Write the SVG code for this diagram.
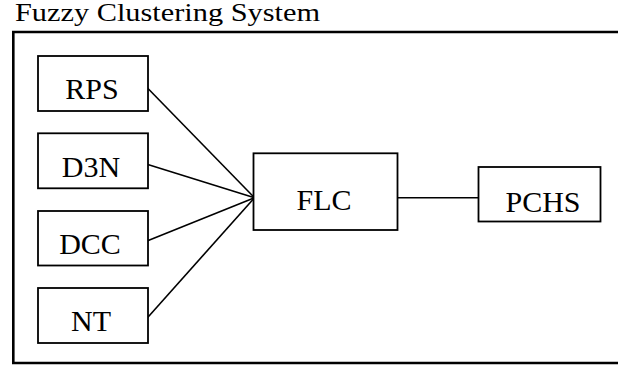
<svg xmlns="http://www.w3.org/2000/svg" width="618" height="367" viewBox="0 0 618 367">
  <style>
    .box { fill: #ffffff; stroke: #000000; stroke-width: 1.8; }
    .frame { fill: none; stroke: #000000; stroke-width: 2.6; }
    .link { fill: none; stroke: #000000; stroke-width: 1.6; }
    .label { font-family: 'Liberation Serif', Tinos, 'Times New Roman', Times, 'Nimbus Roman', 'Nimbus Roman No9 L', FreeSerif, serif; font-size: 30px; fill: #000000; text-anchor: middle; }
    .title { font-family: 'Liberation Serif', Tinos, 'Times New Roman', Times, 'Nimbus Roman', 'Nimbus Roman No9 L', FreeSerif, serif; font-size: 25px; fill: #000000; }
  </style>
  <rect width="618" height="367" fill="#ffffff"/>

  <!-- system boundary (open on the right) -->
  <g id="system">
    <text class="title" x="15" y="20.5" textLength="305" lengthAdjust="spacingAndGlyphs">Fuzzy Clustering System</text>
    <path class="frame" d="M 618 32 H 13.3 V 363 H 618"/>
  </g>

  <!-- connectors -->
  <g id="connectors">
    <line class="link" x1="147" y1="87.5" x2="254.5" y2="197.7"/>
    <line class="link" x1="147" y1="164.3" x2="254.5" y2="197.7"/>
    <line class="link" x1="147" y1="241" x2="254.5" y2="197.7"/>
    <line class="link" x1="147" y1="318.3" x2="254.5" y2="197.7"/>
    <line class="link" x1="398" y1="197.7" x2="478" y2="197.7"/>
  </g>

  <g id="rps">
    <rect class="box" x="38" y="56" width="110" height="55"/>
    <text class="label" x="92" y="98.5">RPS</text>
  </g>
  <g id="d3n">
    <rect class="box" x="38" y="133.3" width="110" height="55"/>
    <text class="label" x="91" y="176.7">D3N</text>
  </g>
  <g id="dcc">
    <rect class="box" x="38" y="211" width="110" height="54.5"/>
    <text class="label" x="90" y="253.5">DCC</text>
  </g>
  <g id="nt">
    <rect class="box" x="38" y="288" width="110" height="55"/>
    <text class="label" x="91" y="330.7">NT</text>
  </g>
  <g id="flc">
    <rect class="box" x="253.5" y="153.3" width="144" height="76.7"/>
    <text class="label" x="324" y="210">FLC</text>
  </g>
  <g id="pchs">
    <rect class="box" x="478.5" y="167" width="122" height="54.5"/>
    <text class="label" x="543" y="211.7">PCHS</text>
  </g>
</svg>
